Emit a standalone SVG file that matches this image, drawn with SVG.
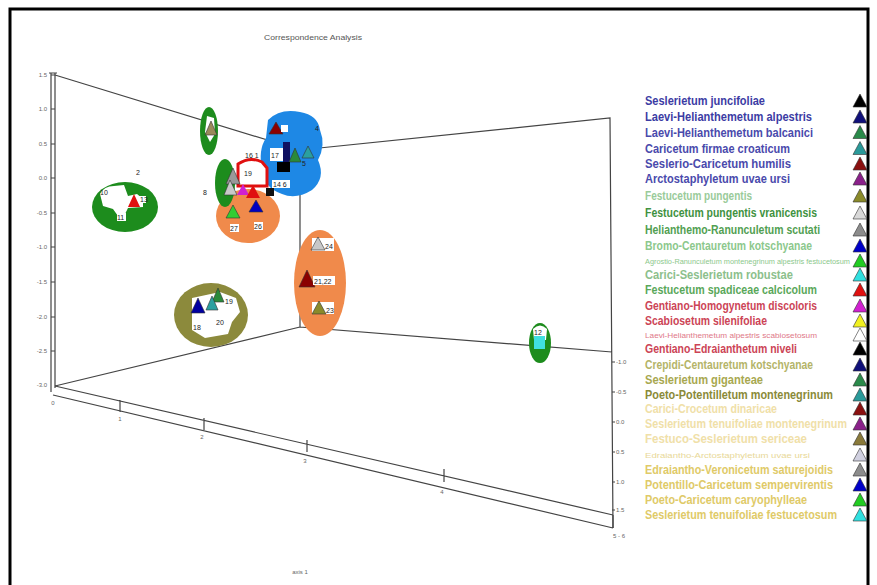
<svg xmlns="http://www.w3.org/2000/svg" width="877" height="585" viewBox="0 0 877 585">
<style>
.ax{stroke:#444;stroke-width:1.2;fill:none}
.tk{font-family:"Liberation Sans",Arial,sans-serif;font-size:6px;fill:#666}
.lg{font-family:"Liberation Sans",Arial,sans-serif;font-size:13px;font-weight:bold}
.sm{font-size:8px;font-weight:normal}
.lab{font-family:"Liberation Sans",Arial,sans-serif;font-size:7px;fill:#222}
.tri{stroke:#333;stroke-width:0.6}
.wb{fill:#fff}
</style>
<rect width="877" height="585" fill="#fff"/>
<rect x="10" y="9" width="858" height="590" fill="none" stroke="#000" stroke-width="3"/>
<text x="313" y="40" text-anchor="middle" font-family="Liberation Sans,Arial,sans-serif" font-size="8" fill="#555" textLength="98" lengthAdjust="spacingAndGlyphs">Correspondence Analysis</text>

<g id="axes">
<path class="ax" d="M51 73V392M55 73V388M49 73H57"/>
<path class="ax" d="M55 75L300 150L610 118L613 528M300 150V327L612 352M300 327L55 386"/>
<path class="ax" d="M55 386L613 515M53 395L613 528M120 400V412M204 418V430M307 440V452M444 469V482M613 515V528"/>
<path class="ax" d="M51 75h4M51 109h4M51 144h4M51 178h4M51 213h4M51 247h4M51 282h4M51 317h4M51 351h4"/>
<path class="ax" d="M612 362h3M612 392h3M612 422h3M612 452h3M612 482h3M612 510h3"/>
<g class="tk" text-anchor="end">
<text x="47" y="77">1.5</text><text x="47" y="111">1.0</text><text x="47" y="146">0.5</text><text x="47" y="180">0.0</text><text x="47" y="215">-0.5</text><text x="47" y="249">-1.0</text><text x="47" y="284">-1.5</text><text x="47" y="319">-2.0</text><text x="47" y="353">-2.5</text><text x="47" y="387">-3.0</text>
</g>
<g class="tk">
<text x="616" y="364">-1.0</text><text x="616" y="394">-0.5</text><text x="616" y="424">0.0</text><text x="616" y="454">0.5</text><text x="616" y="484">1.0</text><text x="616" y="512">1.5</text>
</g>
<g class="tk" text-anchor="middle">
<text x="53" y="405">0</text><text x="120" y="421">1</text><text x="202" y="439">2</text><text x="305" y="463">3</text><text x="442" y="494">4</text><text x="619" y="538">5 - 6</text>
<text x="300" y="574">axis 1</text>
</g>
</g>

<g id="cluster-left">
<ellipse cx="125" cy="207" rx="33" ry="25" fill="#1d8c1d"/>
<path class="wb" d="M100 194Q104 186 114 186L124 185L128 196L137 194L143 199L143 207L128 208L125 214L118 216L113 209L103 206Z"/>
<polygon points="134,194 128,207 140,207" fill="#e01010"/>
<rect x="139" y="196" width="7" height="7" class="wb"/>
<text class="lab" x="140" y="202">13</text>
<text class="lab" x="100" y="195">10</text>
<rect x="117" y="213" width="9" height="8" class="wb"/>
<text class="lab" x="117" y="220">11</text>
<text class="lab" x="136" y="175">2</text>
</g>

<g id="cluster-small-green">
<ellipse cx="209" cy="131" rx="9" ry="24" fill="#1d8c1d"/>
<path class="wb" d="M207 116L214 118L215 134L210 142L205 132Z"/>
<polygon points="211,121 205,135 217,135" fill="#9a8a5a" class="tri"/>
</g>

<g id="cluster-blue">
<path fill="#1e88e5" d="M268 120Q280 108 300 112Q318 115 320 130Q326 145 318 160Q326 178 312 190Q296 200 282 194Q264 188 262 170Q258 150 266 138Z"/>
<polygon points="276,122 269,134 283,134" fill="#8b0000" class="tri"/>
<rect x="281" y="125" width="7" height="7" class="wb"/>
<text class="lab" x="315" y="131">4</text>
<rect x="270" y="148" width="13" height="13" class="wb"/>
<text class="lab" x="271" y="158">17</text>
<rect x="283" y="142" width="7" height="20" fill="#101060"/>
<polygon points="295,148 289,162 301,162" fill="#2a8a3a" class="tri"/>
<polygon points="308,146 302,158 314,158" fill="#2aa0a0" class="tri"/>
<text class="lab" x="302" y="166">5</text>
<rect x="277" y="162" width="13" height="10" fill="#000"/>
<rect x="272" y="180" width="18" height="8" class="wb"/>
<text class="lab" x="273" y="187">14 6</text>
</g>

<g id="cluster-center">
<ellipse cx="248" cy="216" rx="32" ry="27" fill="#f08a4b"/>
<ellipse cx="225" cy="183" rx="10" ry="24" fill="#1d8c1d"/>
<path fill="#fff" stroke="#e01010" stroke-width="3" d="M238 164Q250 156 262 162L267 168V186H238Z"/>
<rect x="244" y="152" width="16" height="6" class="wb"/>
<text class="lab" x="245" y="158">16 1</text>
<text class="lab" x="244" y="176">19</text>
<polygon points="233,168 226,184 240,184" fill="#999" class="tri"/>
<polygon points="230,180 224,195 237,195" fill="#c8c8c8" class="tri"/>
<polygon points="243,184 237,195 249,195" fill="#d020d0"/>
<polygon points="253,185 246,198 260,198" fill="#e01010"/>
<rect x="266" y="188" width="8" height="8" fill="#111"/>
<polygon points="233,205 226,218 240,218" fill="#33cc33" class="tri"/>
<polygon points="256,200 249,212 263,212" fill="#0000c0" class="tri"/>
<text class="lab" x="203" y="195">8</text>
<rect x="230" y="224" width="9" height="8" class="wb"/>
<text class="lab" x="230" y="231">27</text>
<rect x="254" y="222" width="9" height="8" class="wb"/>
<text class="lab" x="254" y="229">26</text>
</g>

<g id="cluster-orange">
<ellipse cx="320" cy="283" rx="26" ry="53" fill="#f08a4b"/>
<rect x="312" y="238" width="22" height="13" class="wb"/>
<polygon points="318,237 311,250 325,250" fill="#c8c8c8" class="tri"/>
<text class="lab" x="325" y="249">24</text>
<polygon points="307,270 299,287 315,287" fill="#8b0000" class="tri"/>
<rect x="313" y="276" width="22" height="9" class="wb"/>
<text class="lab" x="314" y="284">21,22</text>
<rect x="312" y="302" width="22" height="12" class="wb"/>
<polygon points="319,301 312,314 326,314" fill="#8a8a2a" class="tri"/>
<text class="lab" x="326" y="313">23</text>
</g>

<g id="cluster-olive">
<ellipse cx="211" cy="315" rx="37" ry="32" fill="#8c8a3c"/>
<path class="wb" d="M192 298L220 292L236 298L240 312L232 322L228 334L205 338L192 330Z"/>
<polygon points="218,288 212,302 224,302" fill="#2a8a3a" class="tri"/>
<polygon points="212,296 206,310 218,310" fill="#2aa0a0" class="tri"/>
<polygon points="198,298 191,313 205,313" fill="#0000a0" class="tri"/>
<text class="lab" x="225" y="304">19</text>
<text class="lab" x="216" y="325">20</text>
<text class="lab" x="193" y="330">18</text>
</g>

<g id="cluster-right">
<ellipse cx="540" cy="343" rx="11" ry="20" fill="#1d8c1d"/>
<path class="wb" d="M533 329Q540 322 547 329L546 340H534Z"/>
<rect x="534" y="336" width="11" height="13" fill="#40e0e0"/>
<text class="lab" x="534" y="335">12</text>
</g>

<g id="legend">
<g class="lg">
<text transform="translate(645 105) scale(0.78 1)" fill="#3c3ca4" textLength="153.8" lengthAdjust="spacingAndGlyphs">Seslerietum juncifoliae</text>
<text transform="translate(645 121) scale(0.78 1)" fill="#3c3ca4" textLength="214.1" lengthAdjust="spacingAndGlyphs">Laevi-Helianthemetum alpestris</text>
<text transform="translate(645 136.5) scale(0.78 1)" fill="#4a4aac" textLength="215.4" lengthAdjust="spacingAndGlyphs">Laevi-Helianthemetum balcanici</text>
<text transform="translate(645 152.5) scale(0.78 1)" fill="#4a4aac" textLength="185.9" lengthAdjust="spacingAndGlyphs">Caricetum firmae croaticum</text>
<text transform="translate(645 168) scale(0.78 1)" fill="#4a4aac" textLength="187.2" lengthAdjust="spacingAndGlyphs">Seslerio-Caricetum humilis</text>
<text transform="translate(645 183) scale(0.78 1)" fill="#4a4aac" textLength="185.9" lengthAdjust="spacingAndGlyphs">Arctostaphyletum uvae ursi</text>
<text transform="translate(645 200) scale(0.78 1)" fill="#9acb9a" textLength="137.2" lengthAdjust="spacingAndGlyphs">Festucetum pungentis</text>
<text transform="translate(645 217) scale(0.78 1)" fill="#3f923f" textLength="220.5" lengthAdjust="spacingAndGlyphs">Festucetum pungentis vranicensis</text>
<text transform="translate(645 234) scale(0.78 1)" fill="#52a052" textLength="224.4" lengthAdjust="spacingAndGlyphs">Helianthemo-Ranunculetum scutati</text>
<text transform="translate(645 250) scale(0.78 1)" fill="#8cc88c" textLength="214.1" lengthAdjust="spacingAndGlyphs">Bromo-Centauretum kotschyanae</text>
<text transform="translate(645 263.5) scale(0.78 1)" fill="#8cc88c" class="sm" textLength="262.8" lengthAdjust="spacingAndGlyphs">Agrostio-Ranunculetum montenegrinum alpestris festucetosum</text>
<text transform="translate(645 279) scale(0.78 1)" fill="#8cc08c" textLength="189.7" lengthAdjust="spacingAndGlyphs">Carici-Seslerietum robustae</text>
<text transform="translate(645 294) scale(0.78 1)" fill="#5aa85a" textLength="220.5" lengthAdjust="spacingAndGlyphs">Festucetum spadiceae calcicolum</text>
<text transform="translate(645 310) scale(0.78 1)" fill="#cc4456" textLength="220.5" lengthAdjust="spacingAndGlyphs">Gentiano-Homogynetum discoloris</text>
<text transform="translate(645 325) scale(0.78 1)" fill="#cc4456" textLength="156.4" lengthAdjust="spacingAndGlyphs">Scabiosetum silenifoliae</text>
<text transform="translate(645 337.5) scale(0.78 1)" fill="#e07888" class="sm" textLength="220.5" lengthAdjust="spacingAndGlyphs">Laevi-Helianthemetum alpestris scabiosetosum</text>
<text transform="translate(645 353) scale(0.78 1)" fill="#cc4456" textLength="194.9" lengthAdjust="spacingAndGlyphs">Gentiano-Edraianthetum niveli</text>
<text transform="translate(645 369) scale(0.78 1)" fill="#b4b468" textLength="215.4" lengthAdjust="spacingAndGlyphs">Crepidi-Centauretum kotschyanae</text>
<text transform="translate(645 384) scale(0.78 1)" fill="#a8a850" textLength="151.3" lengthAdjust="spacingAndGlyphs">Seslerietum giganteae</text>
<text transform="translate(645 399) scale(0.78 1)" fill="#8a8a38" textLength="241" lengthAdjust="spacingAndGlyphs">Poeto-Potentilletum montenegrinum</text>
<text transform="translate(645 413) scale(0.78 1)" fill="#f0e0a8" textLength="169.2" lengthAdjust="spacingAndGlyphs">Carici-Crocetum dinaricae</text>
<text transform="translate(645 428) scale(0.78 1)" fill="#f0e0a8" textLength="259" lengthAdjust="spacingAndGlyphs">Seslerietum tenuifoliae montenegrinum</text>
<text transform="translate(645 443) scale(0.78 1)" fill="#f0e0a8" textLength="207.7" lengthAdjust="spacingAndGlyphs">Festuco-Seslerietum sericeae</text>
<text transform="translate(645 457.5) scale(0.78 1)" fill="#e8d898" class="sm" textLength="211.5" lengthAdjust="spacingAndGlyphs">Edraiantho-Arctostaphyletum uvae ursi</text>
<text transform="translate(645 474) scale(0.78 1)" fill="#e0ca68" textLength="241" lengthAdjust="spacingAndGlyphs">Edraiantho-Veronicetum saturejoidis</text>
<text transform="translate(645 489) scale(0.78 1)" fill="#e0ca68" textLength="241" lengthAdjust="spacingAndGlyphs">Potentillo-Caricetum sempervirentis</text>
<text transform="translate(645 504) scale(0.78 1)" fill="#e0ca68" textLength="207.7" lengthAdjust="spacingAndGlyphs">Poeto-Caricetum caryophylleae</text>
<text transform="translate(645 519) scale(0.78 1)" fill="#e0ca68" textLength="246.2" lengthAdjust="spacingAndGlyphs">Seslerietum tenuifoliae festucetosum</text>
</g>
<g class="tri">
<polygon points="860,94 853,107 867,107" fill="#000"/>
<polygon points="860,110 853,123 867,123" fill="#10107a"/>
<polygon points="860,125.5 853,138.5 867,138.5" fill="#2a8a4a"/>
<polygon points="860,141.5 853,154.5 867,154.5" fill="#2a9a9a"/>
<polygon points="860,157 853,170 867,170" fill="#8a1010"/>
<polygon points="860,172 853,185 867,185" fill="#8a208a"/>
<polygon points="860,189 853,202 867,202" fill="#8a8a2a"/>
<polygon points="860,206 853,219 867,219" fill="#d8d8d8"/>
<polygon points="860,223 853,236 867,236" fill="#8c8c8c"/>
<polygon points="860,239 853,252 867,252" fill="#0000c8"/>
<polygon points="860,254 853,267 867,267" fill="#22cc22"/>
<polygon points="860,268 853,281 867,281" fill="#30e0e0"/>
<polygon points="860,283 853,296 867,296" fill="#e01010"/>
<polygon points="860,299 853,312 867,312" fill="#d020d0"/>
<polygon points="860,314 853,327 867,327" fill="#f0f020"/>
<polygon points="860,328 853,341 867,341" fill="#fff"/>
<polygon points="860,342 853,355 867,355" fill="#000"/>
<polygon points="860,358 853,371 867,371" fill="#10107a"/>
<polygon points="860,373 853,386 867,386" fill="#2a8a4a"/>
<polygon points="860,388 853,401 867,401" fill="#2a9a9a"/>
<polygon points="860,402 853,415 867,415" fill="#8a1010"/>
<polygon points="860,417 853,430 867,430" fill="#8a208a"/>
<polygon points="860,432 853,445 867,445" fill="#8a7a3a"/>
<polygon points="860,448 853,461 867,461" fill="#d0d0e0"/>
<polygon points="860,463 853,476 867,476" fill="#8c8c8c"/>
<polygon points="860,478 853,491 867,491" fill="#0000c8"/>
<polygon points="860,493 853,506 867,506" fill="#22cc22"/>
<polygon points="860,508 853,521 867,521" fill="#30e0e0"/>
</g>
</g>
</svg>
